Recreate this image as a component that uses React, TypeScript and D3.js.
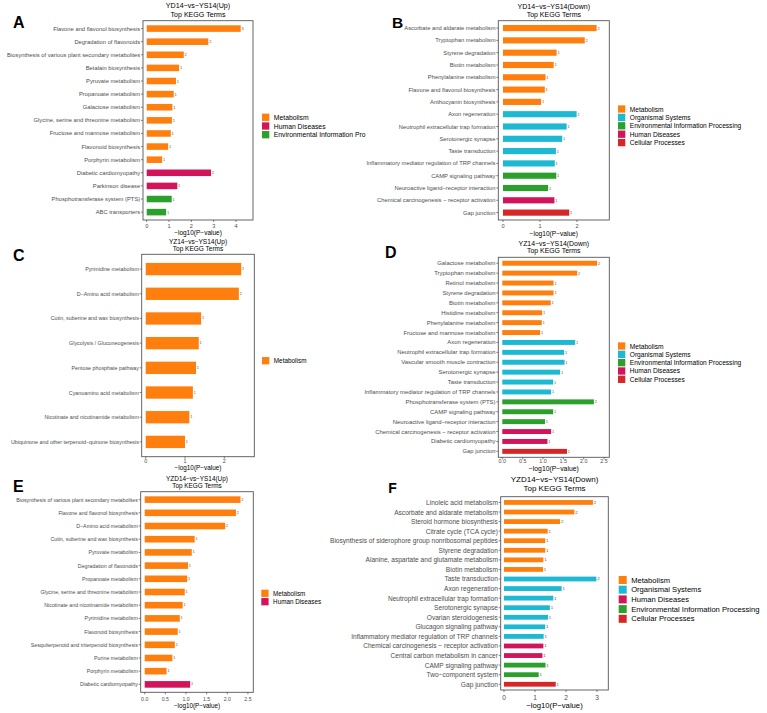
import React from "react";
import * as d3 from "d3";

// ---------- colours by KEGG class ----------
const classNames = [
  "Metabolism",
  "Organismal Systems",
  "Environmental Information Processing",
  "Human Diseases",
  "Cellular Processes",
];
const classColors = ["#FF7F0E", "#1DB9D3", "#2CA02C", "#D2145A", "#D62728"];
const colorOf = d3.scaleOrdinal<string, string>().domain(classNames).range(classColors);

const M = "Metabolism";
const O = "Organismal Systems";
const EIP = "Environmental Information Processing";
const HD = "Human Diseases";
const CP = "Cellular Processes";

// ---------- Panel A ----------
const termsA = [
  "Flavone and flavonol biosynthesis",
  "Degradation of flavonoids",
  "Biosynthesis of various plant secondary metabolites",
  "Betalain biosynthesis",
  "Pyruvate metabolism",
  "Propanoate metabolism",
  "Galactose metabolism",
  "Glycine, serine and threonine metabolism",
  "Fructose and mannose metabolism",
  "Flavonoid biosynthesis",
  "Porphyrin metabolism",
  "Diabetic cardiomyopathy",
  "Parkinson disease",
  "Phosphotransferase system (PTS)",
  "ABC transporters",
];
const valuesA = [4.21, 2.76, 1.66, 1.45, 1.31, 1.21, 1.15, 1.13, 1.08, 0.96, 0.69, 2.88, 1.37, 1.12, 0.87];
const countsA = [3, 2, 2, 1, 1, 1, 1, 1, 1, 1, 1, 2, 1, 1, 1];
const classesA = [M, M, M, M, M, M, M, M, M, M, M, HD, HD, EIP, EIP];
const legendA = [M, HD, EIP];
const legendLabelsA = ["Metabolism", "Human Diseases", "Environmental Information Pro"];

// ---------- Panel B ----------
const termsB = [
  "Ascorbate and aldarate metabolism",
  "Tryptophan metabolism",
  "Styrene degradation",
  "Biotin metabolism",
  "Phenylalanine metabolism",
  "Flavone and flavonol biosynthesis",
  "Anthocyanin biosynthesis",
  "Axon regeneration",
  "Neutrophil extracellular trap formation",
  "Serotonergic synapse",
  "Taste transduction",
  "Inflammatory mediator regulation of TRP channels",
  "CAMP signaling pathway",
  "Neuroactive ligand\u2212receptor interaction",
  "Chemical carcinogenesis \u2212 receptor activation",
  "Gap junction",
];
const valuesB = [2.53, 2.21, 1.45, 1.37, 1.15, 1.13, 1.03, 1.99, 1.72, 1.6, 1.43, 1.4, 1.44, 1.22, 1.39, 1.79];
const countsB = [2, 2, 1, 1, 1, 1, 1, 1, 1, 1, 1, 1, 1, 1, 1, 1];
const classesB = [M, M, M, M, M, M, M, O, O, O, O, O, EIP, EIP, HD, CP];
const legendB = [M, O, EIP, HD, CP];

// ---------- Panel C ----------
const termsC = [
  "Pyrimidine metabolism",
  "D\u2212Amino acid metabolism",
  "Cutin, suberine and wax biosynthesis",
  "Glycolysis / Gluconeogenesis",
  "Pentose phosphate pathway",
  "Cyanoamino acid metabolism",
  "Nicotinate and nicotinamide metabolism",
  "Ubiquinone and other terpenoid\u2212quinone biosynthesis",
];
const valuesC = [2.43, 2.37, 1.41, 1.35, 1.28, 1.2, 1.11, 1.0];
const countsC = [2, 2, 1, 1, 1, 1, 1, 1];
const classesC = [M, M, M, M, M, M, M, M];
const legendC = [M];

// ---------- Panel D ----------
const termsD = [
  "Galactose metabolism",
  "Tryptophan metabolism",
  "Retinol metabolism",
  "Styrene degradation",
  "Biotin metabolism",
  "Histidine metabolism",
  "Phenylalanine metabolism",
  "Fructose and mannose metabolism",
  "Axon regeneration",
  "Neutrophil extracellular trap formation",
  "Vascular smooth muscle contraction",
  "Serotonergic synapse",
  "Taste transduction",
  "Inflammatory mediator regulation of TRP channels",
  "Phosphotransferase system (PTS)",
  "CAMP signaling pathway",
  "Neuroactive ligand\u2212receptor interaction",
  "Chemical carcinogenesis \u2212 receptor activation",
  "Diabetic cardiomyopathy",
  "Gap junction",
];
const valuesD = [2.33, 1.84, 1.26, 1.26, 1.19, 0.98, 0.97, 0.93, 1.79, 1.52, 1.53, 1.42, 1.25, 1.2, 2.25, 1.25, 1.05, 1.2, 1.11, 1.59];
const countsD = [2, 2, 1, 1, 1, 1, 1, 1, 1, 1, 1, 1, 1, 1, 2, 1, 1, 1, 1, 1];
const classesD = [M, M, M, M, M, M, M, M, O, O, O, O, O, O, EIP, EIP, EIP, HD, HD, CP];
const legendD = [M, O, EIP, HD, CP];

// ---------- Panel E ----------
const termsE = [
  "Biosynthesis of various plant secondary metabolites",
  "Flavone and flavonol biosynthesis",
  "D\u2212Amino acid metabolism",
  "Cutin, suberine and wax biosynthesis",
  "Pyruvate metabolism",
  "Degradation of flavonoids",
  "Propanoate metabolism",
  "Glycine, serine and threonine metabolism",
  "Nicotinate and nicotinamide metabolism",
  "Pyrimidine metabolism",
  "Flavonoid biosynthesis",
  "Sesquiterpenoid and triterpenoid biosynthesis",
  "Purine metabolism",
  "Porphyrin metabolism",
  "Diabetic cardiomyopathy",
];
const valuesE = [2.32, 2.21, 1.95, 1.21, 1.14, 1.05, 1.03, 0.97, 0.92, 0.85, 0.8, 0.73, 0.67, 0.53, 1.1];
const countsE = [2, 2, 2, 1, 1, 1, 1, 1, 1, 1, 1, 1, 1, 1, 1];
const classesE = [M, M, M, M, M, M, M, M, M, M, M, M, M, M, HD];
const legendE = [M, HD];

// ---------- Panel F ----------
const termsF = [
  "Linoleic acid metabolism",
  "Ascorbate and aldarate metabolism",
  "Steroid hormone biosynthesis",
  "Citrate cycle (TCA cycle)",
  "Biosynthesis of siderophore group nonribosomal peptides",
  "Styrene degradation",
  "Alanine, aspartate and glutamate metabolism",
  "Biotin metabolism",
  "Taste transduction",
  "Axon regeneration",
  "Neutrophil extracellular trap formation",
  "Serotonergic synapse",
  "Ovarian steroidogenesis",
  "Glucagon signaling pathway",
  "Inflammatory mediator regulation of TRP channels",
  "Chemical carcinogenesis \u2212 receptor activation",
  "Central carbon metabolism in cancer",
  "CAMP signaling pathway",
  "Two\u2212component system",
  "Gap junction",
];
const valuesF = [2.87, 2.27, 1.81, 1.41, 1.33, 1.33, 1.27, 1.26, 2.98, 1.86, 1.59, 1.48, 1.42, 1.33, 1.28, 1.27, 1.24, 1.34, 1.12, 1.67];
const countsF = [2, 2, 2, 1, 1, 1, 1, 1, 2, 1, 1, 1, 1, 1, 1, 1, 1, 1, 1, 1];
const classesF = [M, M, M, M, M, M, M, M, O, O, O, O, O, O, O, HD, HD, EIP, EIP, CP];
const legendF = [M, O, HD, EIP, CP];

const ticksInt4 = [0, 1, 2, 3, 4];
const ticksInt2 = [0, 1, 2];
const ticksInt3 = [0, 1, 2, 3];
const ticksHalf = [0, 0.5, 1, 1.5, 2, 2.5];

const FONT = "'Liberation Sans', Arial, Helvetica, sans-serif";

type PanelCfg = {
  letter: string;
  title: string;
  terms: string[];
  values: number[];
  counts: number[];
  classes: string[];
  legend: string[];
  legendLabels?: string[];
  ticks: number[];
  tickFmt: string;
  box: [number, number, number, number];
  dom: [number, number];
  labelFs: number;
  tickFs: number;
  tickY: number;
  titleFs: number;
  titleY: [number, number];
  axisY: number;
  axisFs: number;
  valFs: number;
  leg: { x: number; y0: number; step: number; sq: number; fs: number };
  let: { x: number; y: number; fs: number };
};

const panels: PanelCfg[] = [
  {
    letter: "A", title: "YD14\u2212vs\u2212YS14(Up)", terms: termsA, values: valuesA, counts: countsA, classes: classesA,
    legend: legendA, legendLabels: legendLabelsA, ticks: ticksInt4, tickFmt: "d",
    box: [143, 253, 20.7, 220], dom: [-0.166, 4.76], labelFs: 5.8, tickFs: 5.6, tickY: 225.5,
    titleFs: 7.1, titleY: [6, 14.7], axisY: 232.7, axisFs: 6.5, valFs: 3.9,
    leg: { x: 262, y0: 117.3, step: 8.7, sq: 7.3, fs: 6.8 }, let: { x: 13, y: 28.3, fs: 16 },
  },
  {
    letter: "B", title: "YD14\u2212vs\u2212YS14(Down)", terms: termsB, values: valuesB, counts: countsB, classes: classesB,
    legend: legendB, ticks: ticksInt2, tickFmt: "d",
    box: [498.3, 609.3, 20.7, 220], dom: [-0.127, 2.873], labelFs: 5.8, tickFs: 5.6, tickY: 225.5,
    titleFs: 7.0, titleY: [6, 14.7], axisY: 233.3, axisFs: 6.6, valFs: 3.9,
    leg: { x: 618, y0: 109, step: 8.4, sq: 7.3, fs: 6.6 }, let: { x: 392, y: 28.3, fs: 15.5 },
  },
  {
    letter: "C", title: "YZ14\u2212vs\u2212YS14(Up)", terms: termsC, values: valuesC, counts: countsC, classes: classesC,
    legend: legendC, ticks: ticksInt2, tickFmt: "d",
    box: [141.7, 254.3, 254.3, 456.7], dom: [-0.102, 2.763], labelFs: 5.35, tickFs: 5.4, tickY: 461,
    titleFs: 6.5, titleY: [241, 248.3], axisY: 467.5, axisFs: 6.4, valFs: 3.8,
    leg: { x: 262, y0: 360.7, step: 8.5, sq: 7.3, fs: 6.4 }, let: { x: 13, y: 260.7, fs: 16 },
  },
  {
    letter: "D", title: "YZ14\u2212vs\u2212YS14(Down)", terms: termsD, values: valuesD, counts: countsD, classes: classesD,
    legend: legendD, ticks: ticksHalf, tickFmt: ".1f",
    box: [498.3, 609.3, 257.3, 457.3], dom: [-0.098, 2.629], labelFs: 5.9, tickFs: 5.4, tickY: 461.3,
    titleFs: 6.9, titleY: [243.3, 250.7], axisY: 468.5, axisFs: 6.8, valFs: 3.9,
    leg: { x: 618, y0: 346, step: 8.33, sq: 7.3, fs: 6.6 }, let: { x: 385, y: 258.3, fs: 16 },
  },
  {
    letter: "E", title: "YZD14\u2212vs\u2212YS14(Up)", terms: termsE, values: valuesE, counts: countsE, classes: classesE,
    legend: legendE, ticks: ticksHalf, tickFmt: ".1f",
    box: [140.7, 253.3, 491.7, 692.3], dom: [-0.097, 2.63], labelFs: 5.3, tickFs: 5.2, tickY: 698.5,
    titleFs: 6.4, titleY: [478, 485.3], axisY: 705, axisFs: 6.3, valFs: 3.8,
    leg: { x: 261.3, y0: 593.3, step: 8.4, sq: 7.3, fs: 6.3 }, let: { x: 13, y: 491.7, fs: 16 },
  },
  {
    letter: "F", title: "YZD14\u2212vs\u2212YS14(Down)", terms: termsF, values: valuesF, counts: countsF, classes: classesF,
    legend: legendF, ticks: ticksInt3, tickFmt: "d",
    box: [500.7, 608.3, 496.7, 690], dom: [-0.106, 3.365], labelFs: 6.6, tickFs: 6.6, tickY: 697,
    titleFs: 8.0, titleY: [479.3, 488.3], axisY: 705, axisFs: 7.7, valFs: 4.4,
    leg: { x: 618.7, y0: 580, step: 9.7, sq: 8, fs: 7.6 }, let: { x: 388.3, y: 493.3, fs: 14 },
  },
];

function Panel({ p }: { p: PanelCfg }) {
  const [x0, x1, y0, y1] = p.box;
  const x = d3.scaleLinear().domain(p.dom).range([x0, x1]);
  const y = d3
    .scaleBand<string>()
    .domain(p.terms)
    .range([y0, y1])
    .paddingInner(0.5)
    .paddingOuter(0.35);
  const fmt = d3.format(p.tickFmt);
  const cx = (x0 + x1) / 2;
  const textCol = "#4d4d4d";
  return (
    <g fontFamily={FONT}>
      <text x={p.let.x} y={p.let.y} fontSize={p.let.fs} fontWeight="bold" fill="#000">
        {p.letter}
      </text>
      <text x={cx} y={p.titleY[0]} fontSize={p.titleFs} textAnchor="middle" dominantBaseline="central" fill="#000">
        {p.title}
      </text>
      <text x={cx} y={p.titleY[1]} fontSize={p.titleFs} textAnchor="middle" dominantBaseline="central" fill="#000">
        Top KEGG Terms
      </text>
      {p.terms.map((t, i) => {
        const yy = y(t)!;
        const bw = y.bandwidth();
        const xe = x(p.values[i]);
        return (
          <g key={t + i}>
            <rect x={x(0)} y={yy} width={xe - x(0)} height={bw} fill={colorOf(p.classes[i])} />
            <text x={xe + 0.8} y={yy + bw / 2} fontSize={p.valFs} dominantBaseline="central" fill="#555">
              {p.counts[i]}
            </text>
            <line x1={x0 - 2} x2={x0} y1={yy + bw / 2} y2={yy + bw / 2} stroke="#333" strokeWidth={0.6} />
            <text
              x={x0 - 2.8}
              y={yy + bw / 2}
              fontSize={p.labelFs}
              textAnchor="end"
              dominantBaseline="central"
              fill={textCol}
            >
              {t}
            </text>
          </g>
        );
      })}
      <rect x={x0} y={y0} width={x1 - x0} height={y1 - y0} fill="none" stroke="#555" strokeWidth={0.9} />
      {p.ticks.map((tk) => (
        <g key={tk}>
          <line x1={x(tk)} x2={x(tk)} y1={y1} y2={y1 + 2} stroke="#333" strokeWidth={0.6} />
          <text x={x(tk)} y={p.tickY} fontSize={p.tickFs} textAnchor="middle" dominantBaseline="central" fill={textCol}>
            {fmt(tk)}
          </text>
        </g>
      ))}
      <text x={cx} y={p.axisY} fontSize={p.axisFs} textAnchor="middle" dominantBaseline="central" fill="#000">
        {"\u2212log10(P\u2212value)"}
      </text>
      {p.legend.map((c, i) => {
        const ly = p.leg.y0 + i * p.leg.step;
        return (
          <g key={c}>
            <rect x={p.leg.x} y={ly - p.leg.sq / 2} width={p.leg.sq} height={p.leg.sq} fill={colorOf(c)} />
            <text
              x={p.leg.x + p.leg.sq + 4.5}
              y={ly}
              fontSize={p.leg.fs}
              dominantBaseline="central"
              fill="#000"
            >
              {p.legendLabels ? p.legendLabels[i] : c}
            </text>
          </g>
        );
      })}
    </g>
  );
}

export default function App() {
  return (
    <svg
      width={767}
      height={713}
      style={{ position: "absolute", left: 0, top: 0, background: "#fff" }}
    >
      <rect x={0} y={0} width={767} height={713} fill="#fff" />
      {panels.map((p) => (
        <Panel key={p.letter} p={p} />
      ))}
    </svg>
  );
}
